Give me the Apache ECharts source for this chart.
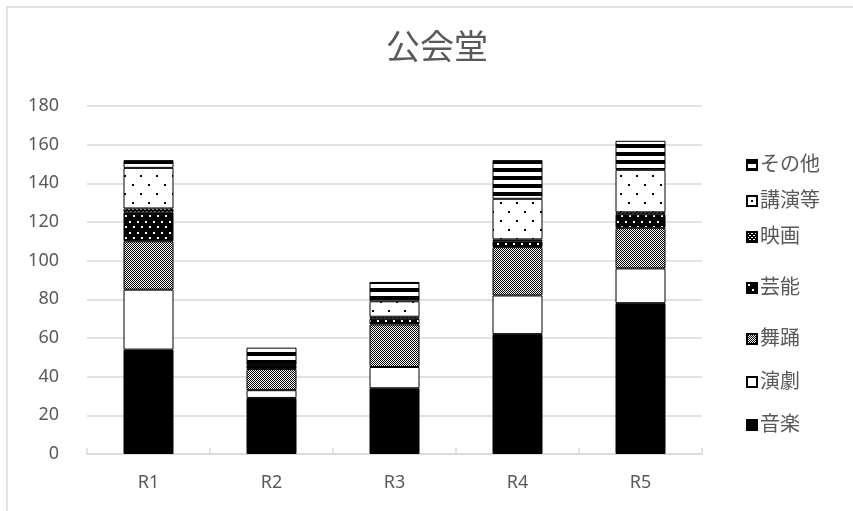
<!DOCTYPE html>
<html>
<head>
<meta charset="utf-8">
<script src="https://cdn.jsdelivr.net/npm/echarts@6/dist/echarts.min.js"></script>
<style>
html,body{margin:0;padding:0;background:#fff;}
#main{width:853px;height:511px;}
</style>
</head>
<body>
<div id="main"></div>
<script>
// ---- data ----
var categories = ['R1', 'R2', 'R3', 'R4', 'R5'];
var seriesNames = ['音楽', '演劇', '舞踊', '芸能', '映画', '講演等', 'その他'];
var ongaku  = [54, 29, 34, 62, 78];
var engeki  = [31, 4, 11, 20, 18];
var buyou   = [25, 11, 22, 25, 21];
var geinou  = [15, 2, 3, 3, 7];
var eiga    = [2, 1, 1, 1, 1];
var kouen   = [21, 0, 8, 21, 22];
var sonota  = [4, 8, 10, 20, 15];
var yTicks  = [0, 20, 40, 60, 80, 100, 120, 140, 160, 180];

var values = [ongaku, engeki, buyou, geinou, eiga, kouen, sonota];

// ---- pattern helpers ----
function mk(w, h, draw) {
  var c = document.createElement('canvas');
  c.width = w; c.height = h;
  var g = c.getContext('2d');
  draw(g, w, h);
  return { image: c, repeat: 'repeat' };
}
var fills = [
  '#000000',
  '#ffffff',
  mk(2, 2, function (g) { g.fillStyle = '#fff'; g.fillRect(0,0,2,2); g.fillStyle = '#000'; g.fillRect(0,0,1,1); g.fillRect(1,1,1,1); }),
  mk(8, 11, function (g) { g.fillStyle = '#000'; g.fillRect(0,0,8,11); g.fillStyle = '#fff'; g.fillRect(1,1,2,2); g.fillRect(5,6,2,2); }),
  mk(4, 4, function (g) { g.fillStyle = '#000'; g.fillRect(0,0,4,4); g.fillStyle = '#fff'; g.fillRect(0,1,2,1); g.fillRect(2,3,2,1); }),
  mk(16, 18, function (g) { g.fillStyle = '#fff'; g.fillRect(0,0,16,18); g.fillStyle = '#000'; g.fillRect(4,4,2,2); g.fillRect(12,13,2,2); }),
  mk(8, 8, function (g) { g.fillStyle = '#fff'; g.fillRect(0,0,8,8); g.fillStyle = '#000'; g.fillRect(0,0,8,4); })
];

var FONT = "'Noto Sans', 'Noto Sans CJK JP', sans-serif";
var series = seriesNames.map(function (n, i) {
  return {
    name: n,
    type: 'bar',
    stack: 'total',
    barWidth: 50,
    data: values[i],
    itemStyle: { color: fills[i], borderColor: '#000', borderWidth: 1 },
    emphasis: { disabled: true }
  };
});

// legend positions (top to bottom: reversed order)
var legendCenters = { 'その他': 167, '講演等': 203, '映画': 239, '芸能': 290, '舞踊': 341, '演劇': 384, '音楽': 427 };
var legends = seriesNames.map(function (n) {
  return {
    data: [n],
    left: 746,
    top: legendCenters[n] - 12,
    icon: 'rect',
    itemWidth: 10,
    itemHeight: 10,
    itemGap: 0,
    padding: 0,
    selectedMode: false,
    textStyle: { color: '#595959', fontSize: 20, fontFamily: FONT, padding: [0, 0, 0, -2] }
  };
});

var chart = echarts.init(document.getElementById('main'), null, { renderer: 'canvas' });
chart.setOption({
  animation: false,
  backgroundColor: '#fff',
  title: {
    text: '公会堂',
    left: 437,
    top: 32,
    textAlign: 'center',
    padding: 0,
    textStyle: { color: '#595959', fontSize: 34, fontWeight: 'normal', fontFamily: FONT }
  },
  graphic: [{
    type: 'rect',
    shape: { x: 7, y: 7, width: 900, height: 560 },
    style: { fill: 'none', stroke: '#d9d9d9', lineWidth: 1.5 },
    silent: true
  }],
  legend: legends,
  grid: { left: 87, right: 151, top: 106, bottom: 57, containLabel: false },
  xAxis: {
    type: 'category',
    data: categories,
    boundaryGap: true,
    axisLine: { lineStyle: { color: '#d9d9d9', width: 1.5 } },
    axisTick: { show: true, inside: true, length: 6, lineStyle: { color: '#d9d9d9', width: 1.5 } },
    axisLabel: { color: '#595959', fontSize: 18, fontFamily: FONT, margin: 20 }
  },
  yAxis: {
    type: 'value',
    min: yTicks[0],
    max: yTicks[yTicks.length - 1],
    interval: 20,
    axisLine: { show: false },
    axisTick: { show: false },
    splitLine: { lineStyle: { color: '#d9d9d9', width: 1.5 } },
    axisLabel: { color: '#595959', fontSize: 18, fontFamily: FONT, margin: 28 }
  },
  series: series
});
</script>
</body>
</html>
